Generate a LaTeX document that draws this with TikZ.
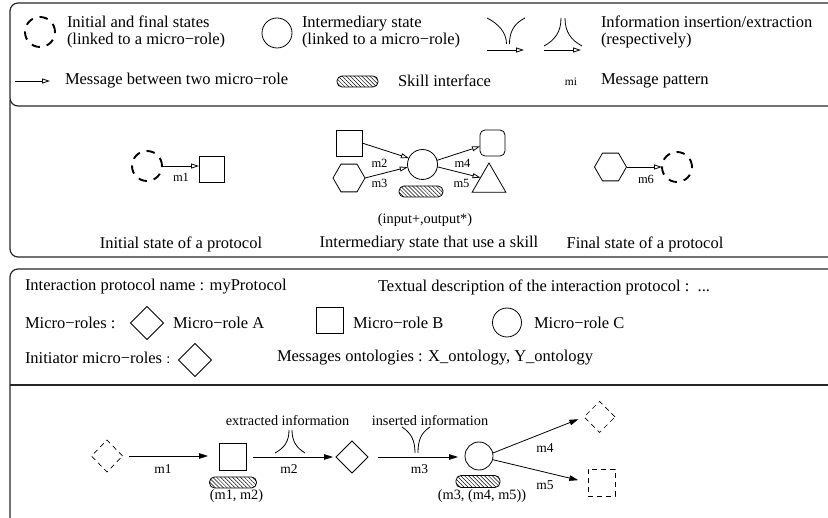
\documentclass[tikz,border=0pt]{standalone}
\usepackage{fontspec}
\setmainfont{Liberation Serif}
\usetikzlibrary{arrows.meta,patterns,patterns.meta,shapes.geometric}
\newcommand\myBig{\fontsize{16.5pt}{17pt}\selectfont}
\newcommand\myMid{\fontsize{14.3pt}{16pt}\selectfont}
\newcommand\myLab{\fontsize{13.5pt}{15pt}\selectfont}
\newcommand\mySmall{\fontsize{12.5pt}{14pt}\selectfont}
\newcommand\myTiny{\fontsize{11.5pt}{13pt}\selectfont}
\begin{document}
\begin{tikzpicture}[x=1pt,y=-1pt,
  every node/.style={inner sep=0pt,outer sep=0pt},
  txt/.style={font=\myBig,anchor=west,align=left},
  ctxt/.style={font=\myBig},
  mtxt/.style={font=\myMid},
  labm/.style={font=\myLab},
  labs/.style={font=\mySmall},
  frame/.style={draw=black!85,line width=1.2pt},
  shp/.style={draw,line width=0.8pt,inner sep=0pt},
  sqr/.style={shp,rectangle,minimum width=26,minimum height=26},
  rsqr/.style={sqr,rounded corners=5pt},
  circ/.style={shp,circle,minimum size=#1},
  dcirc/.style={draw,circle,line width=1.9pt,dash pattern=on 8.5pt off 7pt,minimum size=30},
  hexa/.style={shp,regular polygon,regular polygon sides=6,minimum size=32},
  trian/.style={shp,regular polygon,regular polygon sides=3,minimum size=39},
  diam/.style={shp,diamond,minimum width=33,minimum height=33},
  ddiam/.style={shp,diamond,line width=0.7pt,dash pattern=on 5pt off 4pt,minimum width=31,minimum height=31},
  dsqr/.style={shp,rectangle,line width=0.7pt,dash pattern=on 5pt off 4pt,minimum width=27,minimum height=27},
  skill/.style={draw,line width=0.8pt,rounded corners=5pt,pattern={Lines[angle=-45,distance=2.8pt,line width=0.5pt]},minimum width=#1,minimum height=11},
  msg/.style={line width=0.8pt,-{Triangle[open,length=8pt,width=5pt]}},
  fmsg/.style={line width=0.8pt,-{Triangle[length=9pt,width=5.5pt]}},
  sym/.style={line width=0.8pt}
]
\useasboundingbox (0,0) rectangle (828,518);
\clip (0,0) rectangle (828,518);

% ---------- frames ----------
\draw[frame,rounded corners=8pt] (850,3) -- (10,3) -- (10,106) -- (850,106);
\draw[frame,rounded corners=8pt] (10,100) -- (10,257) -- (850,257);
\draw[frame,rounded corners=8pt] (850,269) -- (10,269) -- (10,540);
\draw[frame] (10,385) -- (850,385);

% ---------- legend ----------
\node[dcirc] (lgdc) at (40,32) {};
\node[txt] (lgt1) at (67,32) {Initial and final states\\(linked to a micro−role)};
\node[circ=30] (lgc) at (277,33) {};
\node[txt] (lgt2) at (302,32) {Intermediary state\\(linked to a micro−role)};
% insertion symbol
\draw[sym] (487,18) .. controls (499,24) and (506.5,33) .. (506.5,44);
\draw[sym] (525,18) .. controls (513,24) and (509.5,33) .. (509.5,44);
\coordinate (ia) at (487,50);
\coordinate (ib) at (524,50);
\draw[msg] (ia) -- (ib);
% extraction symbol
\draw[sym] (561,18) .. controls (561,32) and (555,40) .. (544,46);
\draw[sym] (565,18) .. controls (565,32) and (571,40) .. (582,46);
\coordinate (ea) at (544,50);
\coordinate (eb) at (581,50);
\draw[msg] (ea) -- (eb);
\node[txt] (lgt3) at (601,32) {Information insertion/extraction\\(respectively)};
% row 2
\coordinate (ma) at (15,81);
\coordinate (mb) at (50,81);
\draw[msg] (ma) -- (mb);
\node[txt] (lgt4) at (65,81) {Message between two micro−role};
\node[skill=41] (lgsk) at (357.5,81.5) {};
\node[txt] (lgt5) at (398,81) {Skill interface};
\node[font=\myTiny] (lgmi) at (571,82) {mi};
\node[txt] (lgt6) at (601,81) {Message pattern};

% ---------- frame 2 ----------
\node[dcirc] (idc) at (147,166) {};
\node[sqr,minimum width=25] (isq) at (211.5,169) {};
\draw[msg] (idc.east) -- (idc.east -| isq.west);
\node[labs] (im1) at (181,177) {m1};
\node[ctxt] (icap) at (181,244) {Initial state of a protocol};

\node[sqr] (msq) at (349,143) {};
\node[hexa] (mhex) at (349,178) {};
\node[circ=30] (mc) at (422.5,164.5) {};
\node[rsqr,minimum width=25] (mrsq) at (492.5,143) {};
\node[trian] (mtri) at (489,182.5) {};
\draw[msg] (msq.east) -- (mc.155);
\draw[msg] (mhex.east) -- (mc.190);
\draw[msg] (mc.16) -- (mrsq.195);
\draw[msg] (mc.-9) -- (mtri.150);
\node[labs] (mm2) at (379.5,163) {m2};
\node[labs] (mm3) at (379.5,183) {m3};
\node[labs] (mm4) at (462.5,163) {m4};
\node[labs] (mm5) at (461.5,183) {m5};
\node[skill=44] (msk) at (421,191.5) {};
\node[mtxt] (mio) at (425,220) {(input+,output*)};
\node[ctxt] (mcap) at (429,244) {Intermediary state that use a skill};

\node[hexa] (fhex) at (610.5,167) {};
\node[dcirc] (fdc) at (677,167) {};
\draw[msg] (fhex.east) -- (fdc.west);
\node[labs] (fm6) at (646,179) {m6};
\node[ctxt] (fcap) at (645,244) {Final state of a protocol};

% ---------- frame 3 : header ----------
\node[txt] (pname) at (25,287) {Interaction protocol name : myProtocol};
\node[txt] (pdesc) at (378,287) {Textual description of the interaction protocol :\ \ ...};
\node[txt] (mroles) at (25,323) {Micro−roles :};
\node[diam] (rA) at (147,323) {};
\node[txt] (rAt) at (173,323) {Micro−role A};
\node[sqr,minimum width=27] (rB) at (329.5,320.5) {};
\node[txt] (rBt) at (353,323) {Micro−role B};
\node[circ=29] (rC) at (507,322.5) {};
\node[txt] (rCt) at (534,323) {Micro−role C};
\node[txt] (initr) at (25,358) {Initiator micro−roles {\myMid :}};
\node[diam] (iA) at (195,360) {};
\node[txt] (onto) at (277,358) {Messages ontologies : X\_ontology, Y\_ontology};

% ---------- frame 3 : protocol ----------
\node[ddiam,minimum height=32] (p0) at (107,456) {};
\node[sqr,minimum width=27,minimum height=27] (pB) at (232.5,456.5) {};
\node[skill=47] (pk1) at (233,482.5) {};
\node[mtxt] (pk1t) at (236.5,496) {(m1, m2)};
\node[diam,minimum width=32,minimum height=32] (pA) at (352,457) {};
\node[circ=28] (pC) at (479,456) {};
\node[skill=44,minimum height=12] (pk2) at (478,481.5) {};
\node[mtxt] (pk2t) at (482,496) {(m3, (m4, m5))};
\node[ddiam] (p4) at (599.5,417) {};
\node[dsqr] (p5) at (601.5,482.5) {};

\draw[fmsg,shorten <=6pt,shorten >=11pt] (p0.east) -- (p0.east -| pB.west);
\draw[fmsg,shorten <=7pt,shorten >=3pt] (pB.east |- pA.west) -- (pA.west);
\draw[fmsg,shorten <=10pt,shorten >=7pt] (pA.east) -- (pA.east -| pC.west);
\draw[fmsg,shorten >=6pt] (pC.12) -- (p4.west);
\draw[fmsg,shorten >=10pt] (pC.-15) -- (p5.west);

\node[labm] (pm1) at (163,469) {m1};
\node[labm] (pm2) at (289,469) {m2};
\node[labm] (pm3) at (419.5,469) {m3};
\node[labm] (pm4) at (545,448) {m4};
\node[labm] (pm5) at (545,485) {m5};

% extraction above m2
\draw[sym] (289,430) .. controls (289,442) and (284,448) .. (275,453);
\draw[sym] (292,430) .. controls (292,442) and (297,448) .. (305,453);
\node[mtxt] (extr) at (287.5,421) {extracted information};
% insertion above m3
\draw[sym] (402,427) .. controls (411,433) and (415,440) .. (415,453);
\draw[sym] (430,427) .. controls (421,433) and (418,440) .. (418,453);
\node[mtxt] (insr) at (430,421) {inserted information};
\end{tikzpicture}
\end{document}
